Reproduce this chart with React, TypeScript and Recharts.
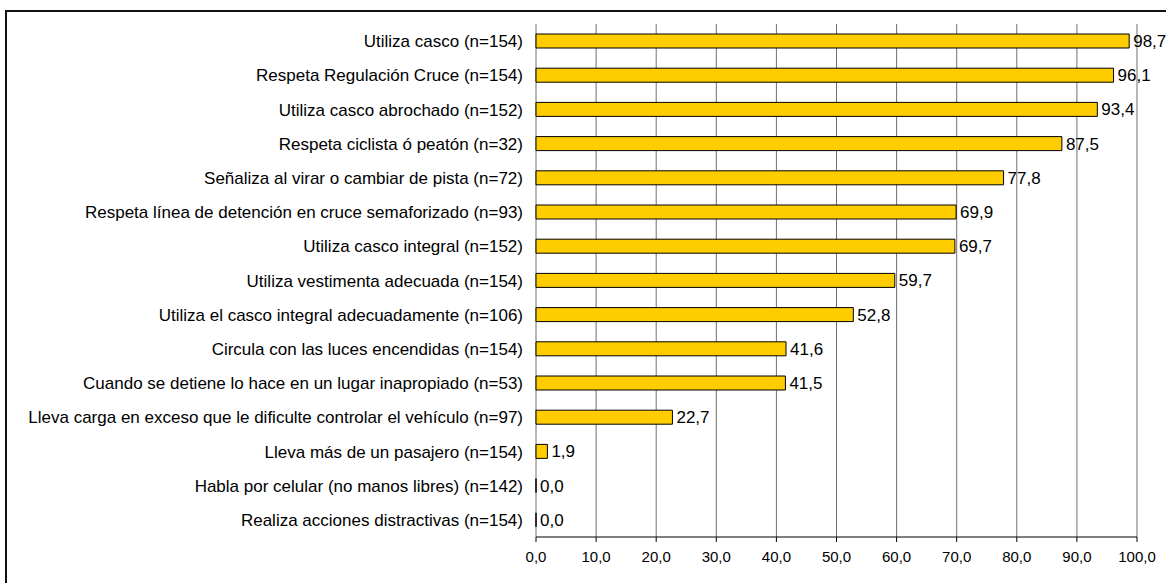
import { BarChart, Bar, XAxis, YAxis, CartesianGrid, LabelList } from "recharts";

const CATEGORIES = [
  "Utiliza casco (n=154)",
  "Respeta Regulación Cruce (n=154)",
  "Utiliza casco abrochado (n=152)",
  "Respeta ciclista ó peatón (n=32)",
  "Señaliza al virar o cambiar de pista (n=72)",
  "Respeta línea de detención en cruce semaforizado (n=93)",
  "Utiliza casco integral (n=152)",
  "Utiliza vestimenta adecuada (n=154)",
  "Utiliza el casco integral adecuadamente (n=106)",
  "Circula con las luces encendidas (n=154)",
  "Cuando se detiene lo hace en un lugar inapropiado (n=53)",
  "Lleva carga en exceso que le dificulte controlar el vehículo (n=97)",
  "Lleva más de un pasajero (n=154)",
  "Habla por celular (no manos libres) (n=142)",
  "Realiza acciones distractivas (n=154)",
];

const VALUES = [98.7, 96.1, 93.4, 87.5, 77.8, 69.9, 69.7, 59.7, 52.8, 41.6, 41.5, 22.7, 1.9, 0.0, 0.0];

const X_TICKS = [0, 10, 20, 30, 40, 50, 60, 70, 80, 90, 100];

// one tick per band boundary on the category axis
const BAND_TICKS = Array.from({ length: CATEGORIES.length + 1 }, (_, i) => i);

const data = CATEGORIES.map((name, i) => ({ name, value: VALUES[i] }));

const fmt = (v: number) => Number(v).toFixed(1).replace(".", ",");

const FONT = "'Liberation Sans', Arial, sans-serif";

export default function App() {
  return (
    <div style={{ position: "fixed", top: 0, left: 0, width: 1166, height: 583, background: "#fff", overflow: "hidden", fontFamily: FONT }}>
      <div
        style={{
          position: "absolute",
          left: 5,
          top: 10,
          width: 1200,
          height: 600,
          border: "2px solid #111",
          boxSizing: "border-box",
        }}
      />
      <BarChart
        width={1166}
        height={583}
        data={data}
        layout="vertical"
        margin={{ top: 24, right: 29, left: 0, bottom: 16 }}
        style={{ position: "absolute", left: 0, top: 0 }}
      >
        <CartesianGrid horizontal={false} stroke="#707070" strokeWidth={1} />
        <XAxis
          type="number"
          domain={[0, 100]}
          ticks={X_TICKS}
          tickFormatter={fmt}
          height={30}
          tickSize={5}
          tickMargin={9}
          stroke="#000"
          tick={{ fontSize: 15, fill: "#000", fontFamily: FONT }}
        />
        <YAxis
          yAxisId="bounds"
          type="number"
          domain={[0, CATEGORIES.length]}
          ticks={BAND_TICKS}
          tick={false}
          tickSize={6}
          width={0}
          stroke="#000"
          allowDataOverflow
        />
        <YAxis
          yAxisId="cat"
          type="category"
          dataKey="name"
          width={536}
          axisLine={false}
          tickLine={false}
          tickSize={0}
          tickMargin={13}
          interval={0}
          tick={{ fontSize: 17, fill: "#000", fontFamily: FONT }}
        />
        {/* tiny minPointSize keeps the 0,0 rows so their labels show; it hides under the axis line */}
        <Bar
          yAxisId="cat"
          dataKey="value"
          fill="#FFCC00"
          stroke="#000"
          strokeWidth={1}
          barSize={14}
          minPointSize={0.01}
          isAnimationActive={false}
        >
          <LabelList
            dataKey="value"
            position="right"
            offset={4}
            formatter={(v: any) => fmt(v)}
            style={{ fontSize: 17, fill: "#000", fontFamily: FONT }}
          />
        </Bar>
      </BarChart>
    </div>
  );
}
